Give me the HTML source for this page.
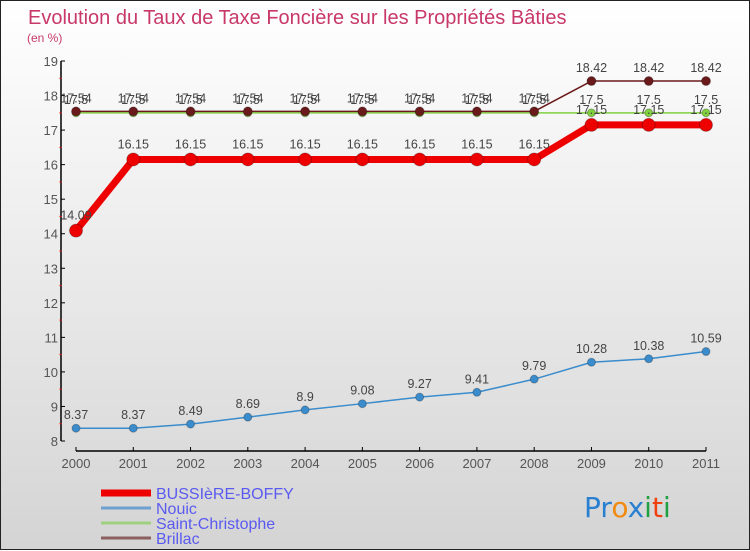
<!DOCTYPE html>
<html><head><meta charset="utf-8"><style>
html,body{margin:0;padding:0}
body{width:750px;height:550px;overflow:hidden;font-family:"Liberation Sans","DejaVu Sans",sans-serif}
#wrap{position:relative;width:748px;height:548px;border:1px solid #222;background:linear-gradient(#ffffff 0%,#ececec 45%,#d4d4d4 100%)}
svg{position:absolute;left:0;top:0}
</style></head><body>
<div id="wrap">
<svg id="chart" width="750" height="550"></svg>
</div>
<script>
const years=["2000","2001","2002","2003","2004","2005","2006","2007","2008","2009","2010","2011"];
const yTicks=[8,9,10,11,12,13,14,15,16,17,18,19];
const bussiere=[14.09,16.15,16.15,16.15,16.15,16.15,16.15,16.15,16.15,17.15,17.15,17.15];
const nouic=[8.37,8.37,8.49,8.69,8.9,9.08,9.27,9.41,9.79,10.28,10.38,10.59];
const saintChristophe=[17.5,17.5,17.5,17.5,17.5,17.5,17.5,17.5,17.5,17.5,17.5,17.5];
const brillac=[17.54,17.54,17.54,17.54,17.54,17.54,17.54,17.54,17.54,18.42,18.42,18.42];

const svg=document.getElementById('chart');
const NS='http://www.w3.org/2000/svg';
function mk(t,a,p){const e=document.createElementNS(NS,t);for(const k in a)e.setAttribute(k,a[k]);(p||svg).appendChild(e);return e;}
const x=i=>75+i*(630/(years.length-1));
const y=v=>440-(v-8)*(380/11);

let t=mk('text',{x:27,y:23,'font-size':20,fill:'#c8386a'});t.textContent='Evolution du Taux de Taxe Foncière sur les Propriétés Bâties';


t=mk('text',{x:26,y:41,'font-size':12,fill:'#c8386a'});t.textContent='(en %)';



let ax=mk('line',{x1:60,y1:60,x2:60,y2:440,stroke:'#000','stroke-width':1.5});


yTicks.forEach((v,i)=>{
  mk('line',{x1:60,y1:y(v),x2:64,y2:y(v),stroke:'#000'});
  if(i<yTicks.length-1) mk('line',{x1:58.5,y1:y(v+0.5),x2:60.5,y2:y(v+0.5),stroke:'#e00'});
  const l=mk('text',{x:57,y:y(v)+5,'font-size':13,fill:'#555','text-anchor':'end'});l.textContent=v;
  
  
});
ax=mk('line',{x1:75,y1:450,x2:705,y2:450,stroke:'#000','stroke-width':1.5});


years.forEach((yr,i)=>{
  mk('line',{x1:x(i),y1:446,x2:x(i),y2:450,stroke:'#000'});
  const l=mk('text',{x:x(i),y:467,'font-size':13,fill:'#555','text-anchor':'middle'});l.textContent=yr;
  
  
});

function series(vals,color,w,r,name,lblDy){
  const g=mk('g',{});
  
  
  mk('polyline',{points:vals.map((v,i)=>x(i)+','+y(v)).join(' '),fill:'none',stroke:color,'stroke-width':w,'stroke-linejoin':'round'},g);
  vals.forEach((v,i)=>{
    const c=mk('circle',{cx:x(i),cy:y(v),r:r,fill:color,stroke:'rgba(0,0,0,0.25)','stroke-width':1},g);
    
    
    const l=mk('text',{x:x(i),y:y(v)+lblDy,'font-size':12.5,fill:'#444','text-anchor':'middle'},g);l.textContent=v;
    
    
  });
}
series(nouic,'#3a8ccc',1.5,4,'nouic-series',-9);
series(saintChristophe,'#80d040',1.5,4,'saint-christophe-series',-9);
series(brillac,'#6a1a1a',1.5,4.5,'brillac-series',-9);
series(bussiere,'#ee0000',7,6.5,'bussiere-boffy-series',-11);

const leg=[['BUSSIèRE-BOFFY','#ee0000',7],['Nouic','#6fa0d0',3],['Saint-Christophe','#9ed080',3],['Brillac','#8a6060',3]];
leg.forEach((e,i)=>{
  const g=mk('g',{});
  
  
  const yy=492+i*15;
  mk('line',{x1:100,y1:yy,x2:150,y2:yy,stroke:e[1],'stroke-width':e[2]},g);
  const l=mk('text',{x:155,y:yy+6,'font-size':16,fill:'#5a5af0'},g);l.textContent=e[0];
});

const lg=mk('text',{x:583,y:516,'font-size':28,'font-family':'DejaVu Sans, sans-serif'});


[['P','#2a80d0'],['r','#2a80d0'],['o','#f08a10'],['x','#2a80d0'],['i','#20a040'],['t','#f04010'],['i','#20a040']].forEach(p=>{
  const s=mk('tspan',{fill:p[1]},lg);s.textContent=p[0];
});
</script>
</body></html>
